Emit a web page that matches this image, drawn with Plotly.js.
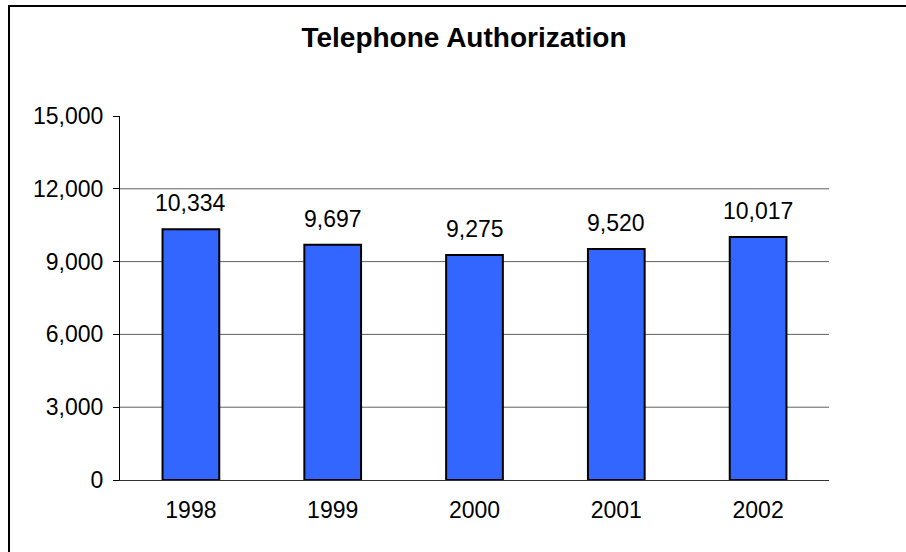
<!DOCTYPE html>
<html>
<head>
<meta charset="utf-8">
<script src="https://cdn.plot.ly/plotly-3.0.1.min.js"></script>
<style>
  html, body { margin:0; padding:0; background:#fff; overflow:hidden; }
  #wrap { position:relative; width:906px; height:552px; overflow:hidden; }
  #chart { position:absolute; left:0; top:0; width:906px; height:552px; }
  #frame { position:absolute; left:8px; top:5px; width:1000px; height:1000px;
           border-left:2px solid #000; border-top:2px solid #000; pointer-events:none; }
</style>
</head>
<body>
<div id="wrap">
  <div id="chart"></div>
  <div id="frame"></div>
</div>
<script>
const years = ['1998', '1999', '2000', '2001', '2002'];
const authorizations = [10334, 9697, 9275, 9520, 10017];
const yTicks = [0, 3000, 6000, 9000, 12000, 15000];
const gridVals = [3000, 6000, 9000, 12000];
const chartTitle = 'Telephone Authorization';

const fontFam = '"Liberation Sans", Arial, sans-serif';

const trace = {
  type: 'bar',
  x: years,
  y: authorizations,
  width: 0.4,
  marker: { color: '#3366FF', line: { color: '#000000', width: 2 } },
  hoverinfo: 'none'
};

const annotations = years.map((yr, i) => ({
  x: i, y: authorizations[i], xref: 'x', yref: 'y',
  text: authorizations[i].toLocaleString('en-US'),
  showarrow: false, yanchor: 'bottom', yshift: 11,
  font: { family: fontFam, size: 23, color: '#000' }
}));

const shapes = gridVals.map(v => ({
  type: 'line', xref: 'paper', yref: 'y', x0: 0, x1: 1, y0: v, y1: v,
  line: { color: '#606060', width: 1 }, layer: 'below'
}));

const layout = {
  width: 906, height: 552,
  margin: { l: 120, r: 77, t: 116, b: 72 },
  paper_bgcolor: '#ffffff', plot_bgcolor: '#ffffff',
  showlegend: false,
  title: {
    text: '<b>' + chartTitle + '</b>',
    x: 464 / 906, xanchor: 'center', xref: 'container',
    y: 1 - 37 / 552, yanchor: 'middle', yref: 'container',
    font: { family: fontFam, size: 28, color: '#000' }
  },
  xaxis: {
    type: 'category',
    categoryorder: 'array', categoryarray: years,
    range: [-0.5, years.length - 0.5],
    showline: true, linecolor: '#333333', linewidth: 1,
    ticks: 'outside', ticklen: 9, tickcolor: 'rgba(0,0,0,0)',
    showgrid: false, zeroline: false,
    tickfont: { family: fontFam, size: 23, color: '#000' }
  },
  yaxis: {
    range: [0, 15000],
    tickmode: 'array',
    tickvals: yTicks,
    ticktext: yTicks.map(v => v.toLocaleString('en-US')),
    showline: true, linecolor: '#000', linewidth: 1,
    ticks: 'outside', ticklen: 6, tickcolor: '#000', tickwidth: 1,
    ticklabelstandoff: 5,
    showgrid: false, zeroline: false,
    tickfont: { family: fontFam, size: 23, color: '#000' }
  },
  shapes: shapes,
  annotations: annotations
};

Plotly.newPlot('chart', [trace], layout, { staticPlot: true, displayModeBar: false });
</script>
</body>
</html>
